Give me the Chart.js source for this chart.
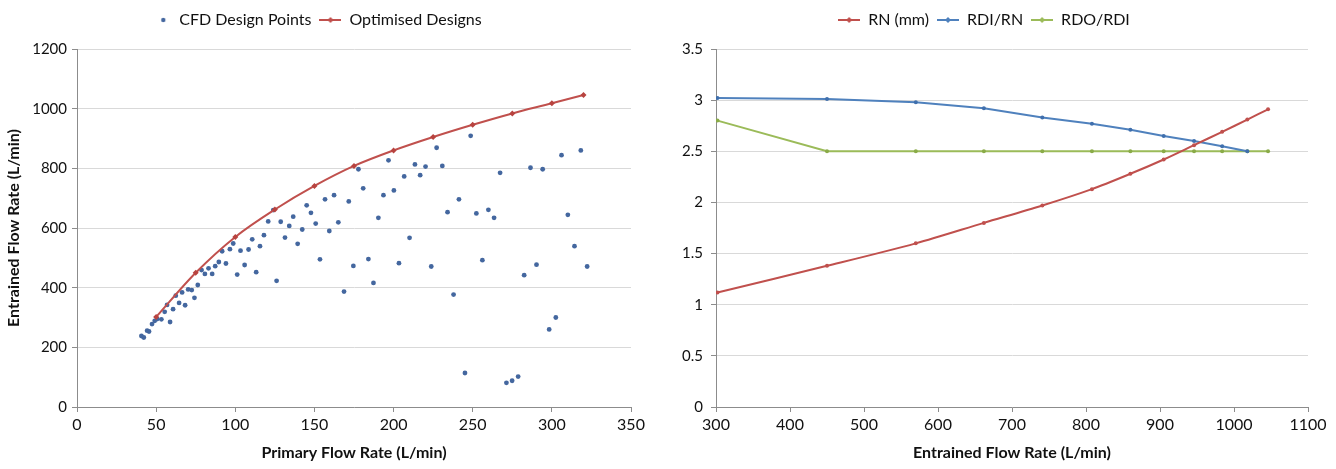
<!DOCTYPE html>
<html>
<head>
<meta charset="utf-8">
<script src="https://cdn.jsdelivr.net/npm/chart.js@4.4.1/dist/chart.umd.min.js"></script>
<style>
  body { margin: 0; background: #fff; }
  #wrap { position: relative; width: 1336px; height: 469px; }
  canvas { position: absolute; top: 0; }
</style>
</head>
<body>
<div id="wrap">
  <canvas id="left" width="660" height="469" style="left:0"></canvas>
  <canvas id="right" width="676" height="469" style="left:660px"></canvas>
</div>
<script>
// left chart: CFD design points (primary vs entrained flow)
const cfdPrimary = [40.7, 42.2, 44.3, 45.5, 47.4, 49.1, 50.6, 53.3, 55.4, 56.9, 58.8, 60.7, 62.4, 64.5, 66.4, 68.3, 70.2, 72.5, 74.2, 76.3,
  78.7, 80.8, 83.1, 85.4, 87.3, 89.6, 91.7, 94.1, 96.6, 98.7, 101.2, 103.3, 105.9, 108.4, 110.7, 113.2, 115.6, 118.1, 120.8, 124,
  126.1, 128.7, 131.4, 134.1, 136.6, 139.4, 142.3, 145.1, 147.8, 150.8, 153.5, 156.7, 159.4, 162.4, 165.1, 168.7, 171.7, 174.6, 177.8, 180.8,
  184.1, 187.3, 190.4, 193.6, 196.8, 200.2, 203.4, 206.7, 210.1, 213.5, 216.8, 220.2, 223.8, 227.2, 230.8, 234.1, 237.9, 241.3, 245.1, 248.7,
  252.3, 256.1, 259.9, 263.5, 267.3, 271.3, 274.9, 278.7, 282.5, 286.5, 290.3, 294.2, 298.3, 302.5, 306.1, 310.1, 314.3, 318.3, 322.3];
const cfdEntrained = [238, 233, 256, 253, 278, 289, 295, 294, 319, 342, 285, 328, 373, 349, 384, 341, 394, 392, 366, 409,
  459, 446, 465, 446, 472, 486, 522, 481, 529, 548, 444, 524, 476, 528, 562, 452, 539, 576, 622, 660,
  423, 621, 568, 607, 638, 547, 595, 676, 651, 615, 495, 696, 590, 710, 619, 387, 689, 473, 797, 733,
  496, 416, 634, 710, 827, 726, 482, 773, 567, 813, 777, 806, 471, 869, 808, 653, 377, 696, 114, 909,
  649, 492, 661, 634, 785, 81, 88, 102, 442, 802, 477, 797, 260, 300, 844, 644, 539, 860, 471];

// optimised designs
const optPrimary = [50, 75, 100, 125, 150, 175, 200, 225, 250, 275, 300, 320];
const optEntrained = [302, 450, 570, 662, 741, 808, 860, 905, 946, 984, 1018, 1046];

// right chart: geometry ratios vs entrained flow
const rnMm = [1.12, 1.38, 1.60, 1.80, 1.97, 2.13, 2.28, 2.42, 2.56, 2.69, 2.81, 2.91];
const rdiRn = [3.02, 3.01, 2.98, 2.92, 2.83, 2.77, 2.71, 2.65, 2.60, 2.55, 2.50, null];
const rdoRdi = [2.80, 2.50, 2.50, 2.50, 2.50, 2.50, 2.50, 2.50, 2.50, 2.50, 2.50, 2.50];

const RED = '#c0504d', BLUE = '#4f81bd', GREEN = '#9bbb59', DOT = '#44679f';
const TXT = '#111111', GRID = '#d9d9d9', AXIS = '#8c8c8c';
const FONT = "Lato, 'Open Sans', sans-serif";

Chart.defaults.font.family = FONT;
Chart.defaults.font.size = 16;
Chart.defaults.color = TXT;

function pts(xs, ys) {
  return xs.map((x, i) => ({x: x, y: ys[i]}));
}

// little legend glyphs: line with marker, or a lone dot
function legendLine(color) {
  const c = document.createElement('canvas');
  c.width = 22; c.height = 8;
  const g = c.getContext('2d');
  g.strokeStyle = color; g.lineWidth = 2;
  g.beginPath(); g.moveTo(0, 4); g.lineTo(22, 4); g.stroke();
  g.fillStyle = color;
  g.beginPath(); g.moveTo(11, 1); g.lineTo(14, 4); g.lineTo(11, 7); g.lineTo(8, 4); g.closePath(); g.fill();
  return c;
}
function legendDot(color) {
  const c = document.createElement('canvas');
  c.width = 22; c.height = 8;
  const g = c.getContext('2d');
  g.fillStyle = color;
  g.beginPath(); g.arc(14, 4, 2.2, 0, Math.PI * 2); g.fill();
  return c;
}

function legendOpts(glyphs) {
  return {
    position: 'top',
    labels: {
      usePointStyle: true,
      pointStyleWidth: 22,
      boxHeight: 8,
      padding: 8,
      font: {size: 16},
      color: TXT,
      sort: (a, b) => a.datasetIndex - b.datasetIndex,
      generateLabels(chart) {
        const items = Chart.defaults.plugins.legend.labels.generateLabels(chart);
        items.forEach(it => { it.pointStyle = glyphs[it.datasetIndex]; });
        return items;
      }
    }
  };
}

// extra space between legend and plot area
const legendGap = {
  id: 'legendGap',
  beforeInit(chart) {
    const fit = chart.legend.fit;
    chart.legend.fit = function() {
      fit.call(this);
      this.height += 11;
    };
  }
};

function axisTitle(text) {
  return {display: !!text, text: text, color: TXT, font: {size: 16, weight: 'bold'}, padding: {top: 4, bottom: 7}};
}

const plainTick = v => String(v);

new Chart(document.getElementById('left'), {
  type: 'scatter',
  plugins: [legendGap],
  data: {
    datasets: [{
      label: 'CFD Design Points',
      data: pts(cfdPrimary, cfdEntrained),
      pointRadius: 2.4,
      pointBackgroundColor: DOT,
      pointBorderWidth: 0,
      order: 2
    }, {
      label: 'Optimised Designs',
      data: pts(optPrimary, optEntrained),
      showLine: true,
      borderColor: RED,
      borderWidth: 2,
      tension: 0.4,
      cubicInterpolationMode: 'monotone',
      pointStyle: 'rectRot',
      pointRadius: 3,
      pointBackgroundColor: '#b8433f',
      pointBorderWidth: 0,
      order: 1
    }]
  },
  options: {
    responsive: false,
    animation: false,
    layout: {padding: {left: 0, right: 29, top: 4, bottom: 0}},
    plugins: {legend: legendOpts([legendDot(DOT), legendLine(RED)]), tooltip: {enabled: false}},
    scales: {
      x: {
        type: 'linear', min: 0, max: 350,
        ticks: {stepSize: 50, color: TXT, padding: 3, callback: plainTick},
        grid: {drawOnChartArea: false, tickLength: 5, tickColor: AXIS},
        border: {color: AXIS},
        title: axisTitle('Primary Flow Rate (L/min)'),
        afterFit(s) { s.height = 62; }
      },
      y: {
        min: 0, max: 1200,
        ticks: {stepSize: 200, color: TXT, padding: 5, font: {size: 15}, callback: plainTick},
        grid: {color: GRID, tickLength: 5, tickColor: AXIS},
        border: {color: AXIS},
        title: {display: true, text: 'Entrained Flow Rate (L/min)', color: TXT, font: {size: 16, weight: 'bold'}, padding: {top: 4, bottom: 2}},
        afterFit(s) { s.width = 77; }
      }
    }
  }
});

new Chart(document.getElementById('right'), {
  type: 'scatter',
  plugins: [legendGap],
  data: {
    datasets: [{
      label: 'RN (mm)',
      data: pts(optEntrained, rnMm),
      showLine: true, borderColor: RED, borderWidth: 2, tension: 0.3,
      pointRadius: 2, pointBackgroundColor: RED, pointBorderWidth: 0
    }, {
      label: 'RDI/RN',
      data: pts(optEntrained, rdiRn),
      showLine: true, borderColor: BLUE, borderWidth: 2, tension: 0,
      pointRadius: 2, pointBackgroundColor: '#3f6fad', pointBorderWidth: 0
    }, {
      label: 'RDO/RDI',
      data: pts(optEntrained, rdoRdi),
      showLine: true, borderColor: GREEN, borderWidth: 2, tension: 0,
      pointRadius: 2, pointBackgroundColor: '#8aab48', pointBorderWidth: 0
    }]
  },
  options: {
    responsive: false,
    animation: false,
    layout: {padding: {left: 0, right: 28, top: 4, bottom: 0}},
    plugins: {legend: legendOpts([legendLine(RED), legendLine(BLUE), legendLine(GREEN)]), tooltip: {enabled: false}},
    scales: {
      x: {
        type: 'linear', min: 300, max: 1100,
        ticks: {stepSize: 100, color: TXT, padding: 3, callback: plainTick},
        grid: {drawOnChartArea: false, tickLength: 5, tickColor: AXIS},
        border: {color: AXIS},
        title: axisTitle('Entrained Flow Rate (L/min)'),
        afterFit(s) { s.height = 62; }
      },
      y: {
        min: 0, max: 3.5,
        ticks: {stepSize: 0.5, color: TXT, padding: 8, font: {size: 15}, callback: plainTick},
        grid: {color: GRID, tickLength: 5, tickColor: AXIS},
        border: {color: AXIS},
        afterFit(s) { s.width = 56; }
      }
    }
  }
});
</script>
</body>
</html>
